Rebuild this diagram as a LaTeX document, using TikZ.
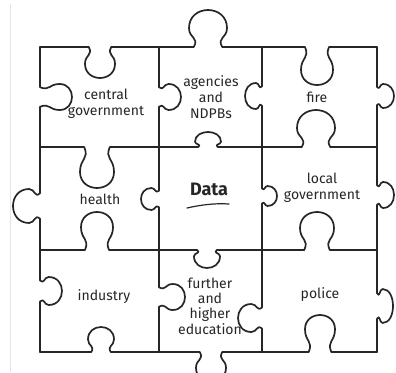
\documentclass[tikz,border=0pt]{standalone}
\usepackage{fontspec}
\setmainfont{Fira Sans}
\usepackage{tikz}
\usetikzlibrary{positioning,calc}

% edge with a knob: x1, x2, y, knob x, sign (+1 = down), depth, head radius
\newcommand\hknob[7]{%
  \pgfmathsetmacro\knh{max(0.35*#6,#6-0.95*#7)}%
  \pgfmathsetmacro\knt{(#6-\knh)*4/3}%
  \draw[piece] (#1,#3) -- ({#4-0.75*#7},#3)
    .. controls ({#4-0.45*#7},{#3+(#5)*0.5*\knh}) and ({#4-#7},{#3+(#5)*0.45*\knh}) .. ({#4-#7},{#3+(#5)*\knh})
    .. controls ({#4-#7},{#3+(#5)*(\knh+\knt)}) and ({#4+#7},{#3+(#5)*(\knh+\knt)}) .. ({#4+#7},{#3+(#5)*\knh})
    .. controls ({#4+#7},{#3+(#5)*0.45*\knh}) and ({#4+0.45*#7},{#3+(#5)*0.5*\knh}) .. ({#4+0.75*#7},#3)
    -- (#2,#3);}
% same, upright: y1, y2, x, knob y, sign (+1 = right), depth, head radius
\newcommand\vknob[7]{%
  \pgfmathsetmacro\knh{max(0.35*#6,#6-0.95*#7)}%
  \pgfmathsetmacro\knt{(#6-\knh)*4/3}%
  \draw[piece] (#3,#1) -- (#3,{#4-0.75*#7})
    .. controls ({#3+(#5)*0.5*\knh},{#4-0.45*#7}) and ({#3+(#5)*0.45*\knh},{#4-#7}) .. ({#3+(#5)*\knh},{#4-#7})
    .. controls ({#3+(#5)*(\knh+\knt)},{#4-#7}) and ({#3+(#5)*(\knh+\knt)},{#4+#7}) .. ({#3+(#5)*\knh},{#4+#7})
    .. controls ({#3+(#5)*0.45*\knh},{#4+#7}) and ({#3+(#5)*0.5*\knh},{#4+0.45*#7}) .. (#3,{#4+0.75*#7})
    -- (#3,#2);}

\begin{document}
\begin{tikzpicture}[x=1pt,y=-1pt,
    piece/.style={draw=black!85,line width=1.7pt,line cap=round,line join=round},
    lbl/.style={align=center,text=black!85,font=\fontsize{14}{16}\selectfont}]
    \useasboundingbox (0,0) rectangle (396,372);
    \draw[black!10,line width=0.6pt] (10,4) -- (10,372);

    % Rows
    \hknob{40}{159}{47}{100}{1}{31}{15}
    \hknob{159}{262}{47}{208}{-1}{37}{19}
    \hknob{262}{377}{47}{317}{1}{38}{16}
    \hknob{40}{159}{147}{97}{1}{41}{17}
    \hknob{159}{262}{147}{208}{-1}{15}{13}
    \hknob{262}{377}{147}{316}{-1}{37}{19}
    \hknob{40}{159}{250}{97}{-1}{38}{16}
    \hknob{159}{262}{250}{207}{1}{18}{13}
    \hknob{262}{377}{250}{317}{-1}{38}{17}
    \hknob{40}{159}{352}{101}{-1}{25}{13}
    \hknob{159}{262}{352}{211}{1}{30}{15}
    \hknob{262}{377}{352}{320}{-1}{37}{15}

    % Columns
    \vknob{47}{147}{40}{97}{1}{32}{13}
    \vknob{147}{250}{40}{206}{-1}{27}{17}
    \vknob{250}{352}{40}{291}{1}{22}{14}
    \vknob{47}{147}{159}{97}{1}{22}{13}
    \vknob{147}{250}{159}{199}{-1}{18}{11}
    \vknob{250}{352}{159}{297}{1}{26}{13}
    \vknob{47}{147}{262}{96}{-1}{17}{13}
    \vknob{147}{250}{262}{196}{1}{15}{10}
    \vknob{250}{352}{262}{318}{-1}{24}{14}
    \vknob{47}{147}{377}{96}{1}{17}{12}
    \vknob{147}{250}{377}{195}{1}{17}{13}
    \vknob{250}{352}{377}{306}{1}{16}{17}

    % Labels
    \node[lbl] (central) at (106,104) {central\\government};
    \node[lbl] (agencies) at (211,97) {agencies\\and\\NDPBs};
    \node[lbl] (fire) at (317,97) {fire};
    \node[lbl] (health) at (100,199) {health};
    \node[lbl,font=\bfseries\fontsize{18}{20}\selectfont] (data) at (209,189) {Data};
    \draw[piece,line width=1.2pt] (187,208) .. controls (200,205) and (215,203) .. (229,204);
    \node[lbl] (localgov) at (322,188) {local\\government};
    \node[lbl] (industry) at (104,297) {industry};
    \node[lbl,font=\fontsize{14}{15.3}\selectfont] (further) at (210,306) {further\\and\\higher\\education};
    \node[lbl] (police) at (320,295) {police};
\end{tikzpicture}
\end{document}
